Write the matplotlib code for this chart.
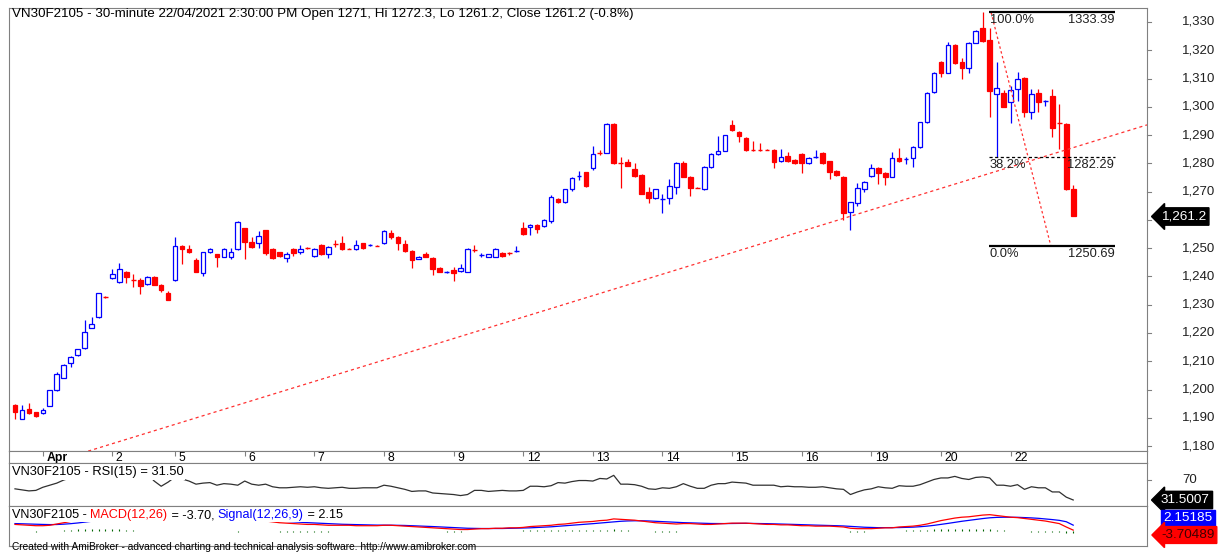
import matplotlib
matplotlib.use("Agg")
import matplotlib.pyplot as plt
from matplotlib.patches import Rectangle
import numpy as np

plt.rcParams['font.family'] = ['Liberation Sans', 'DejaVu Sans']

# ---------------- data ----------------
opens = [1194.5,1189.6,1193.1,1192.0,1191.7,1194.2,1199.8,1204.1,1209.4,1212.2,1214.7,1221.8,1225.7,1233.0,
         1239.4,1238.0,1241.6,1238.8,1238.7,1237.3,1239.8,1237.0,1234.1,
         1238.7,1250.8,1249.7,1245.8,1241.2,1248.6,1247.9,1246.9,1246.9,1249.7,
         1257.1,1252.2,1251.8,1256.4,1249.7,1248.6,1246.5,1249.7,1248.6,1250.1,
         1247.2,1251.1,1247.9,1251.6,1251.8,1249.8,1249.7,1251.8,1251.0,1250.9,
         1251.8,1255.4,1254.0,1251.5,1249.0,1246.2,1247.9,1246.5,1243.0,1241.5,
         1242.2,1241.9,1241.6,1249.4,1247.5,1246.9,1246.9,1248.3,1248.4,1248.9,
         1257.1,1257.5,1258.2,1257.8,1259.6,1267.4,1266.3,1270.9,1275.4,1276.9,
         1278.4,1283.8,1283.7,1293.9,1280.2,1280.5,1278.0,1275.9,1269.9,1267.7,
         1267.3,1267.7,1271.6,1280.1,1275.2,1271.4,1270.9,1278.7,1283.3,1284.4,
         1293.6,1291.1,1289.0,1284.8,1284.8,1284.8,1284.7,1280.8,1282.6,1281.2,
         1283.3,1280.1,1282.0,1283.7,1280.8,1277.3,1275.2,1262.8,1266.0,1270.9,
         1275.5,1278.4,1276.6,1275.2,1281.9,1281.3,1281.9,1285.8,1294.6,1305.2,
         1315.9,1312.0,1321.9,1315.9,1313.7,1322.6,1327.9,1323.6,1304.5,1304.9,
         1301.7,1306.3,1310.2,1298.2,1304.9,1301.9,1303.8,1294.3,1294.0,1271.0]
highs = [1194.8,1194.5,1195.2,1192.2,1193.5,1200.0,1206.2,1208.9,1211.7,1214.5,1224.6,1225.7,1234.3,1233.2,
         1242.6,1244.7,1241.8,1240.9,1239.4,1240.0,1240.0,1237.2,1234.8,
         1254.0,1251.0,1251.1,1246.5,1248.8,1249.9,1248.1,1249.9,1250.1,1259.5,
         1257.3,1254.0,1256.1,1256.6,1249.9,1248.8,1248.6,1249.9,1251.1,1250.3,
         1249.9,1251.3,1250.6,1252.8,1254.3,1249.9,1253.0,1252.0,1251.4,1251.0,
         1256.3,1256.6,1254.2,1253.0,1249.2,1247.1,1248.6,1246.7,1243.2,1241.9,
         1243.3,1244.5,1249.9,1251.1,1248.2,1248.1,1249.9,1248.5,1248.6,1250.8,
         1259.3,1258.4,1258.4,1260.2,1268.8,1267.6,1271.1,1275.0,1277.3,1277.1,
         1286.1,1284.8,1294.1,1294.1,1282.2,1281.5,1280.1,1276.1,1271.8,1271.1,
         1269.3,1274.5,1280.3,1281.0,1275.4,1271.5,1278.9,1283.5,1289.7,1290.2,
         1295.3,1291.3,1289.2,1288.0,1287.2,1284.9,1284.9,1285.2,1284.0,1281.4,
         1283.5,1282.1,1284.7,1283.9,1281.0,1277.5,1275.4,1266.5,1273.0,1273.6,
         1279.7,1278.6,1276.8,1284.0,1285.4,1282.2,1286.0,1294.8,1305.1,1312.2,
         1316.1,1322.9,1322.1,1317.3,1322.8,1327.0,1333.39,1327.9,1315.9,1305.8,
         1307.4,1312.3,1310.4,1306.3,1306.3,1302.3,1306.3,1301.0,1294.3,1272.3]
lows = [1189.6,1189.4,1191.5,1190.4,1191.5,1194.0,1199.6,1203.9,1208.0,1212.0,1214.5,1221.6,1225.2,1232.5,
        1239.2,1237.7,1237.7,1236.3,1233.8,1237.1,1236.8,1234.5,1231.5,
        1238.5,1244.4,1248.4,1241.4,1240.2,1248.4,1243.3,1246.7,1246.2,1249.5,
        1246.2,1250.2,1250.2,1247.6,1246.0,1247.0,1245.1,1247.2,1248.0,1249.8,
        1246.8,1247.7,1246.5,1250.4,1249.5,1249.6,1249.5,1249.8,1250.8,1250.6,
        1251.6,1253.2,1249.3,1248.8,1243.0,1246.0,1246.7,1240.5,1241.4,1241.2,
        1238.4,1241.7,1241.4,1248.5,1247.0,1246.7,1246.7,1247.0,1247.6,1248.8,
        1254.8,1254.6,1255.2,1257.6,1259.0,1266.1,1265.9,1270.3,1274.1,1271.8,
        1277.6,1282.8,1283.5,1279.9,1271.3,1278.9,1275.3,1269.0,1266.0,1267.5,
        1262.4,1265.5,1269.2,1275.0,1268.4,1271.2,1270.7,1278.5,1283.1,1284.2,
        1291.6,1287.5,1284.5,1284.5,1284.5,1284.6,1278.4,1280.6,1280.6,1279.9,
        1276.6,1279.9,1281.8,1279.9,1274.5,1275.7,1260.0,1256.4,1265.0,1269.8,
        1275.3,1272.7,1272.3,1275.0,1280.6,1279.8,1278.7,1285.6,1294.4,1305.0,
        1310.5,1311.8,1315.3,1309.8,1312.0,1322.4,1323.1,1296.4,1282.3,1299.8,
        1294.3,1302.0,1296.4,1295.7,1298.2,1300.3,1289.3,1285.1,1270.7,1261.2]
closes = [1192.0,1192.7,1191.7,1190.6,1192.7,1199.8,1205.5,1208.7,1211.5,1214.3,1220.3,1223.2,1234.1,1232.7,
          1240.9,1242.6,1239.8,1238.7,1236.6,1239.8,1237.0,1235.2,1231.7,
          1250.8,1249.7,1248.6,1241.6,1248.6,1249.7,1246.9,1249.7,1248.6,1259.3,
          1252.2,1250.4,1254.3,1248.3,1246.5,1247.2,1247.9,1248.3,1249.7,1250.0,
          1249.7,1247.9,1250.4,1251.5,1249.7,1249.7,1251.1,1250.0,1251.1,1250.8,
          1256.1,1254.0,1251.8,1249.0,1245.8,1246.9,1246.9,1242.6,1241.6,1241.6,
          1241.2,1243.0,1249.7,1249.3,1247.6,1247.9,1249.7,1247.2,1248.3,1249.0,
          1255.0,1258.2,1256.8,1260.0,1268.1,1266.3,1270.9,1274.8,1275.5,1272.0,
          1283.3,1283.7,1293.9,1280.1,1280.1,1279.1,1275.5,1269.2,1267.7,1270.9,
          1267.4,1272.0,1280.1,1275.2,1271.3,1271.3,1278.7,1283.3,1284.4,1290.0,
          1291.8,1289.7,1284.7,1284.7,1284.7,1284.7,1280.5,1282.2,1280.8,1280.1,
          1280.1,1281.9,1282.2,1280.1,1276.9,1275.9,1262.4,1266.3,1271.3,1273.4,
          1278.4,1276.6,1275.2,1281.9,1280.8,1281.5,1285.8,1294.6,1304.9,1312.0,
          1312.0,1321.9,1315.5,1313.7,1322.6,1326.8,1323.3,1305.6,1306.7,1300.0,
          1306.0,1309.8,1298.2,1304.5,1301.7,1302.0,1292.5,1294.0,1270.9,1261.2]

rsi = [53,51,49,50,56,60,64,
       70,74,77,80,84,85,88,87,88,89,86,85,82,
       68,58,66,
       76,72,68,62,64,65,60,63,62,60,
       68,62,60,62,57,55,55,56,57,56,
       57,55,54,55,56,54,54,55,55,55,
       60,58,55,52,48,49,49,45,44,43,
       42,40,42,50,50,48,49,50,49,49,
       50,58,58,57,59,65,64,67,69,69,
       68,73,72,79,62,62,61,58,53,52,
       55,54,57,63,58,54,54,60,63,63,
       66,65,64,60,60,60,60,57,58,57,
       57,56,56,57,55,53,52,42,47,51,
       53,57,55,54,59,58,58,61,66,71,
       74,74,77,73,71,75,76,74,60,60,
       58,61,52,57,55,55,47,47,37,31.5]

macd = [3,2.5,2,1.5,
        1.5,2,3.5,5,6.5,8,9.5,10.5,12,12,
        13,13.5,13,12.5,12,11.5,11,10.5,9.5,
        10.5,11,10.5,9.5,9.5,9,8.5,8,7.5,7,
        8,7.5,7,7,6,5,4.5,4,3.5,3,
        3,2.5,2,2,2,2,1.5,1.5,1.5,1.5,
        2,2,1.5,1,0.5,0,-0.5,-1,-1.5,-2,
        -2.5,-3,-3,-2.5,-2,-2,-1.5,-1.5,-1,-1,
        -0.5,0.5,1,1.5,2,3,3.5,4.5,5.5,6,
        6.5,7.5,8,9.5,9,8.5,8,7,6,5,
        4.5,4,3.5,4,4,3.5,3,3,3.5,4,
        4.5,4.5,4.5,4,3.5,3,3,2.5,2.5,2,
        1.5,1.5,1,1,1,0.5,0,-1.5,-2,-2,
        -2,-1.5,-1,-1,0,0.5,1,2,3.5,5.5,
        7.5,9,10.5,11.5,12,13,14,14.5,13.5,12.5,
        11.5,11,10,9,8,7,5.5,4,0,-3.70]
signal = [4,3.8,3.5,3.2,
          3,2.8,2.9,3.3,3.9,4.7,5.7,6.6,7.7,8.5,
          9.4,10.2,10.8,11.1,11.3,11.4,11.3,11.2,10.9,
          10.8,10.8,10.7,10.5,10.3,10.1,9.8,9.4,9.1,8.7,
          8.6,8.4,8.1,7.9,7.5,7,6.5,6,5.5,5.1,
          4.7,4.3,3.9,3.5,3.2,3,2.7,2.5,2.3,2.2,
          2.2,2.1,2,1.8,1.5,1.2,0.9,0.5,0.1,-0.3,
          -0.7,-1.2,-1.5,-1.7,-1.8,-1.8,-1.8,-1.8,-1.6,-1.5,
          -1.3,-1,-0.6,-0.2,0.2,0.8,1.3,1.9,2.6,3.3,
          3.9,4.6,5.3,6.1,6.7,7.1,7.3,7.3,7.1,6.7,
          6.3,5.8,5.4,5.1,4.9,4.6,4.3,4.1,4,4,
          4.1,4.2,4.3,4.2,4.1,3.9,3.7,3.5,3.3,3,
          2.7,2.5,2.2,2,1.8,1.5,1.2,0.7,0.1,-0.3,
          -0.6,-0.8,-0.8,-0.9,-0.7,-0.5,-0.2,0.3,1,1.9,
          3,4.2,5.5,6.7,7.8,8.8,9.9,10.8,11.3,11.5,
          11.5,11.4,11.1,10.7,10.2,9.5,8.7,7.8,6.2,2.15]

day_labels = ["Apr", "2", "5", "6", "7", "8", "9", "12", "13", "14", "15", "16", "19", "20", "22"]
day_start_bar = [4, 14, 23, 33, 43, 53, 63, 73, 83, 93, 103, 113, 123, 133, 143]
price_ticks = [1180, 1190, 1200, 1210, 1220, 1230, 1240, 1250, 1260, 1270, 1280, 1290, 1300, 1310, 1320, 1330]

fib_high = 1333.39
fib_low = 1250.69
fib_382 = 1282.29
trend_pts_x = [10.5, 162.6]
trend_pts_y = [1178.2, 1293.6]
fib_diag_x = [140.2, 148.8]

# ---------------- layout ----------------
W, H = 1220, 554
fig = plt.figure(figsize=(W/100, H/100), dpi=100)
fig.patch.set_facecolor('white')

def rect(x0, y0, x1, y1):
    return [x0/W, 1 - y1/H, (x1-x0)/W, (y1-y0)/H]

def px_to_fig(x, y):
    return x/W, 1 - y/H

XL, XR = 9, 1147
XMIN, XMAX = -0.86, 162.6
GRAY = '#808080'

ax = fig.add_axes(rect(XL, 8, XR, 451))
axd = fig.add_axes(rect(XL, 451, XR, 463))
axr = fig.add_axes(rect(XL, 463, XR, 506))
axm = fig.add_axes(rect(XL, 506, XR, 546))

for a in (ax, axd, axr, axm):
    a.set_xlim(XMIN, XMAX)
    a.set_xticks([])
    a.set_yticks([])
    for s in a.spines.values():
        s.set_color(GRAY)
        s.set_linewidth(0.8)

# price panel
ax.set_ylim(1178.25, 1334.95)
n = len(closes)
bw = 0.66
for i in range(n):
    o, h, l, c = opens[i], highs[i], lows[i], closes[i]
    up = c >= o
    col = '#0000ff' if up else '#ff0000'
    ax.vlines(i, l, h, color=col, lw=0.9, zorder=2)
    bot = min(o, c)
    ht = abs(c - o)
    if ht < 0.35:
        ax.hlines((o + c) / 2, i - bw/2, i + bw/2, color=col, lw=1.0, zorder=3)
    else:
        ax.add_patch(Rectangle((i - bw/2, bot), bw, ht,
                               facecolor='white' if up else col,
                               edgecolor=col, lw=0.9, zorder=3))

# trendline
ax.plot(trend_pts_x, trend_pts_y, color='#ff3030', lw=0.9, ls=(0, (2.5, 2.5)), zorder=4)
# fib diagonal
ax.plot(fib_diag_x, [fib_high, fib_low], color='#ff3030', lw=0.9, ls=(0, (2, 2)), zorder=4)
# fib levels
fx0, fx1 = 139.9, 158.0
ax.hlines(fib_high, fx0, fx1, color='black', lw=1.6, zorder=5)
ax.hlines(fib_low, fx0, fx1, color='black', lw=1.6, zorder=5)
ax.hlines(fib_382, fx0, fx1, color='black', lw=0.9, ls=(0, (2.5, 2)), zorder=5)
for lvl, pct, val in [(fib_high, '100.0%', '1333.39'), (fib_382, '38.2%', '1282.29'), (fib_low, '0.0%', '1250.69')]:
    ax.text(fx0 + 0.1, lvl - 0.6, pct, ha='left', va='top', fontsize=9.3, color='#202020', zorder=6)
    ax.text(fx1 - 0.1, lvl - 0.6, val, ha='right', va='top', fontsize=9.3, color='#202020', zorder=6)

# right price axis labels
last = closes[-1]
for p in price_ticks:
    y = 22 + (1330 - p) * 2.827
    fx, fy = px_to_fig(1182, y)
    if abs(p - last) > 4:
        fig.text(fx, fy, f"{p:,}", ha='left', va='center', fontsize=9.5, color='#202020')
    fig.lines.append(plt.Line2D([XR/W, (XR+4)/W], [fy, fy], transform=fig.transFigure, color=GRAY, lw=0.8))

ly = 22 + (1330 - last) * 2.827
fx, fy = px_to_fig(1161, ly)
fig.text(fx, fy, f"{last:,.1f}", ha='left', va='center', fontsize=9.7, color='white',
         bbox=dict(boxstyle='larrow,pad=0.2', fc='black', ec='black'))

# title
fx, fy = px_to_fig(12, 14)
fig.text(fx, fy, "VN30F2105 - 30-minute 22/04/2021 2:30:00 PM Open 1271, Hi 1272.3, Lo 1261.2, Close 1261.2 (-0.8%)",
         ha='left', va='center', fontsize=9.6, color='black')

# date strip
for b, lab in zip(day_start_bar, day_labels):
    axd.vlines(b, 0.55, 1.0, color=GRAY, lw=0.8)
    axd.text(b + 0.5, 0.45, lab, ha='left', va='center', fontsize=8.8,
             fontweight='bold' if lab == 'Apr' else 'normal', color='black')
axd.set_ylim(0, 1)

# RSI
axr.set_ylim(19.9, 102.8)
axr.plot(range(n), rsi, color='#303030', lw=0.9)
axr.text(0.003, 0.78, "VN30F2105 - RSI(15) = 31.50", transform=axr.transAxes, ha='left', va='center',
         fontsize=9.3, color='black', bbox=dict(boxstyle='square,pad=0.1', fc='white', ec='none'), zorder=5)
ry = 480
fx, fy = px_to_fig(1182, ry)
fig.text(fx, fy, "70", ha='left', va='center', fontsize=9.5, color='#202020')
fig.lines.append(plt.Line2D([XR/W, (XR+4)/W], [fy, fy], transform=fig.transFigure, color=GRAY, lw=0.8))
fx, fy = px_to_fig(1161, 500)
fig.text(fx, fy, "31.5007", ha='left', va='center', fontsize=9.7, color='white',
         bbox=dict(boxstyle='larrow,pad=0.2', fc='black', ec='black'))

# MACD
axm.set_ylim(-22.4, 24.7)
hist = [m - s for m, s in zip(macd, signal)]
axm.vlines(range(n), [-4.5]*n, [-4.5 + 0.5*hv for hv in hist], color='#006400', lw=0.8)
axm.plot(range(n), signal, color='#0000ff', lw=0.9)
axm.plot(range(n), macd, color='#ff0000', lw=0.9)

renderer = fig.canvas.get_renderer()
parts = [("VN30F2105 - ", 'black'), ("MACD(12,26)", 'red'), (" = -3.70, ", 'black'),
         ("Signal(12,26,9)", 'blue'), (" = 2.15", 'black')]
xcur = 12
for txt, col in parts:
    fx, fy = px_to_fig(xcur, 515)
    t = fig.text(fx, fy, txt, ha='left', va='center', fontsize=9.1, color=col,
                 bbox=dict(boxstyle='square,pad=0.05', fc='white', ec='none'))
    bb = t.get_window_extent(renderer=renderer)
    xcur += bb.width

fx, fy = px_to_fig(1163, 518)
fig.text(fx, fy, "2.15185", ha='left', va='center', fontsize=9.7, color='white',
         bbox=dict(boxstyle='square,pad=0.18', fc='#0000ff', ec='#0000ff'))
fx, fy = px_to_fig(1161, 535)
fig.text(fx, fy, "-3.70489", ha='left', va='center', fontsize=9.7, color='#400000',
         bbox=dict(boxstyle='larrow,pad=0.18', fc='#ff0000', ec='#ff0000'))

# footer
fx, fy = px_to_fig(12, 547)
fig.text(fx, fy, "Created with AmiBroker - advanced charting and technical analysis software. http://www.amibroker.com",
         ha='left', va='center', fontsize=7.3, color='black')

fig.savefig('out.png', dpi=100, facecolor='white')
